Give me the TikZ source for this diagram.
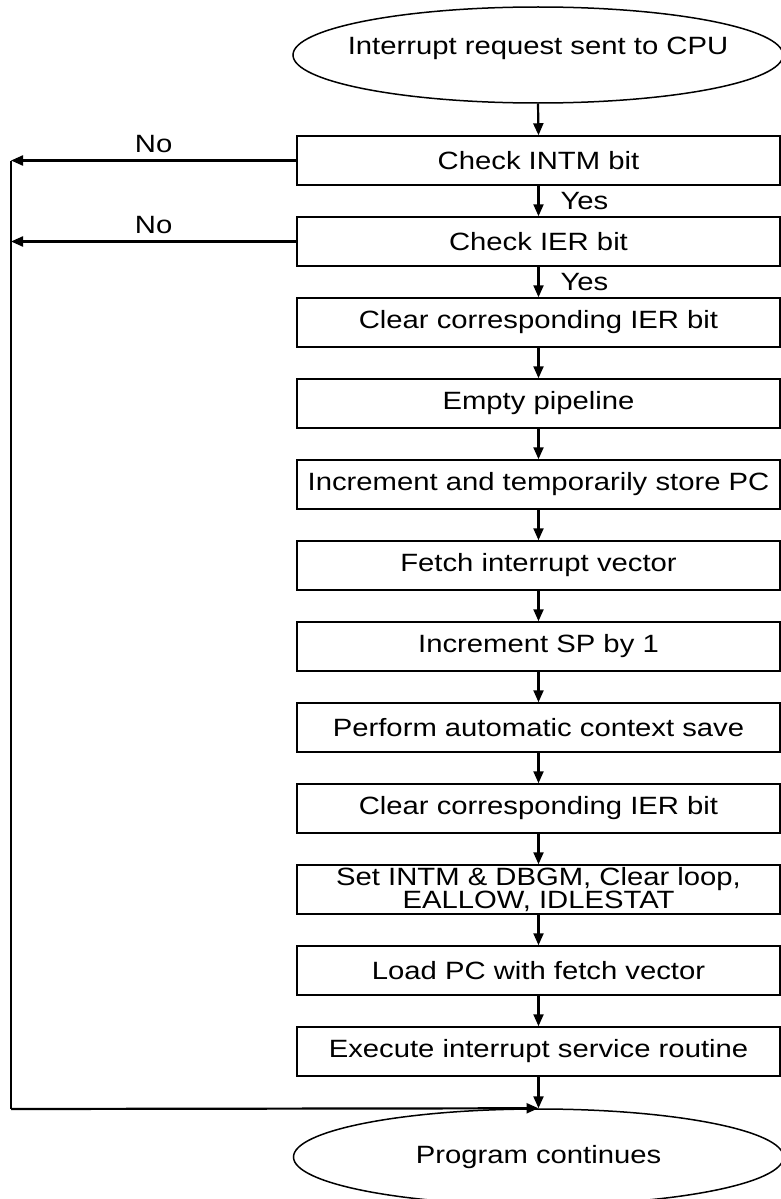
\documentclass[tikz,border=0pt]{standalone}
\usepackage{fontspec}
\setmainfont{Liberation Sans}[FakeStretch=1.17]
\usetikzlibrary{shapes.geometric,arrows.meta}
\begin{document}
\begin{tikzpicture}[x=1pt,y=1pt,
  every node/.style={font=\fontsize{25}{23.5}\selectfont},
  stepbox/.style={draw, line width=1.5pt, minimum width=483pt, minimum height=49pt, inner sep=0pt, align=center},
  oval/.style={draw, ellipse, line width=1.5pt, minimum width=490pt, minimum height=96pt, inner sep=0pt},
  flow/.style={line width=2.2pt, -{Triangle[length=12pt,width=10pt]}},
  plain/.style={line width=2.2pt},
  lbl/.style={inner sep=0pt}]
\useasboundingbox (0,0) rectangle (781,-1199);
\node[oval] (start) at (538,-55) {};
\node[lbl] (starttext) at (538,-48) {Interrupt request sent to CPU};
\node[stepbox] (b1) at (538.5,-160.5) {Check INTM bit};
\node[stepbox] (b2) at (538.5,-241.5) {Check IER bit};
\node[stepbox] (b3) at (538.5,-322.5) {Clear corresponding IER bit};
\node[stepbox] (b4) at (538.5,-403.5) {Empty pipeline};
\node[stepbox] (b5) at (538.5,-484.5) {Increment and temporarily store PC};
\node[stepbox] (b6) at (538.5,-565.5) {Fetch interrupt vector};
\node[stepbox] (b7) at (538.5,-646.5) {Increment SP by 1};
\node[stepbox] (b8) at (538.5,-727.5) {Perform automatic context save};
\node[stepbox] (b9) at (538.5,-808.5) {Clear corresponding IER bit};
\node[stepbox] (b10) at (538.5,-889.5) {Set INTM \& DBGM, Clear loop,\\EALLOW, IDLESTAT};
\node[stepbox] (b11) at (538.5,-970.5) {Load PC with fetch vector};
\node[stepbox] (b12) at (538.5,-1051.5) {Execute interrupt service routine};
\node[oval] (end) at (538.5,-1157) {};
\node[lbl] (endtext) at (538.5,-1157) {Program continues};
\coordinate (L1) at (11,-160.5);
\coordinate (L2) at (11,-241.5);
\coordinate (Lb) at (11,-1109);
\draw[flow] (start.south) -- (b1.north);
\draw[flow] (b1.south) -- node[lbl, right, xshift=21pt] {Yes} (b2.north);
\draw[flow] (b2.south) -- node[lbl, right, xshift=21pt] {Yes} (b3.north);
\draw[flow] (b3.south) -- (b4.north);
\draw[flow] (b4.south) -- (b5.north);
\draw[flow] (b5.south) -- (b6.north);
\draw[flow] (b6.south) -- (b7.north);
\draw[flow] (b7.south) -- (b8.north);
\draw[flow] (b8.south) -- (b9.north);
\draw[flow] (b9.south) -- (b10.north);
\draw[flow] (b10.south) -- (b11.north);
\draw[flow] (b11.south) -- (b12.north);
\draw[flow] (b12.south) -- (end.north);
\draw[flow] (b1.west) -- node[lbl, above=7pt] {No} (L1);
\draw[flow] (b2.west) -- node[lbl, above=7pt] {No} (L2);
\draw[plain] (L1) -- (Lb);
\draw[flow] (Lb) -- (end.north);
\end{tikzpicture}
\end{document}
